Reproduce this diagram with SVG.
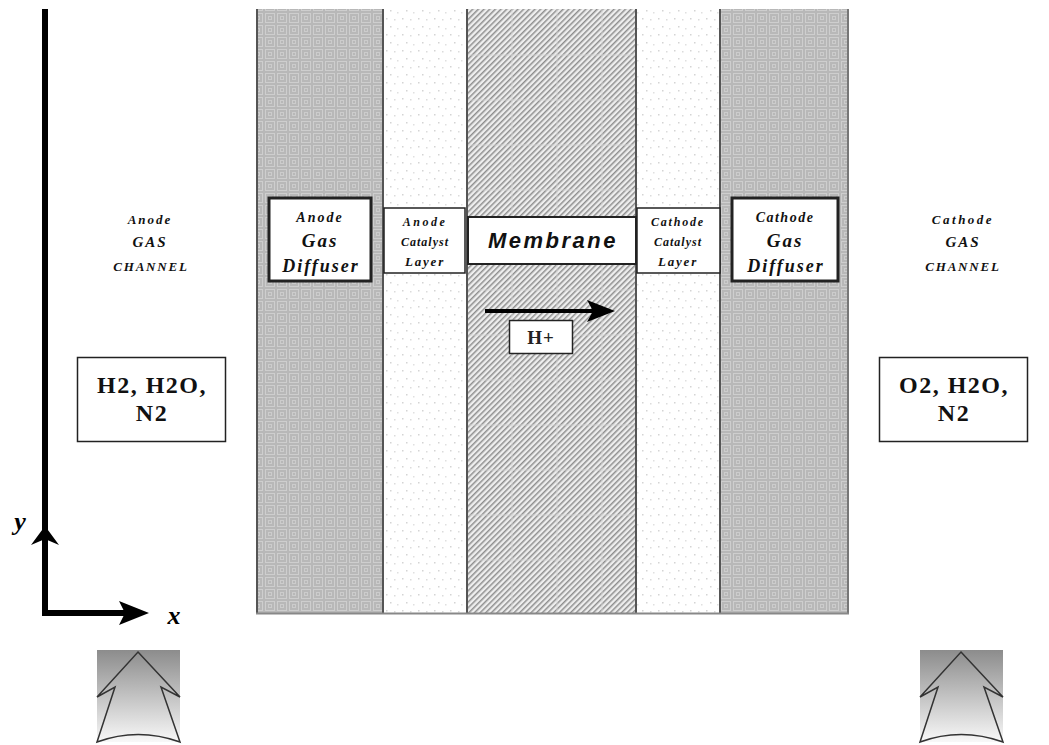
<svg xmlns="http://www.w3.org/2000/svg" width="1049" height="745" viewBox="0 0 1049 745">
<defs>
<pattern id="gdl" width="12" height="12" patternUnits="userSpaceOnUse">
<rect width="12" height="12" fill="#b8b8b8"/>
<rect x="1.5" y="1.5" width="9" height="9" fill="none" stroke="#cecece" stroke-width="1"/>
<rect x="4.5" y="4.5" width="3" height="3" fill="none" stroke="#cccccc" stroke-width="1"/>
</pattern>
<pattern id="cat" width="16" height="16" patternUnits="userSpaceOnUse">
<rect width="16" height="16" fill="#ffffff"/>
<rect x="2" y="2" width="1.5" height="1.5" fill="#d4d4d4"/>
<rect x="10" y="3" width="1.5" height="1.5" fill="#dcdcdc"/>
<rect x="6" y="10" width="1.5" height="1.5" fill="#d4d4d4"/>
<rect x="13" y="12" width="1.5" height="1.5" fill="#e0e0e0"/>
</pattern>
<pattern id="mem" width="4" height="4" patternUnits="userSpaceOnUse" patternTransform="rotate(45)">
<rect width="4" height="4" fill="#eeeeee"/>
<rect x="0" y="0" width="1.5" height="4" fill="#8e8e8e"/>
</pattern>
<linearGradient id="grad" x1="0" y1="0" x2="0" y2="1">
<stop offset="0" stop-color="#8c8c8c"/>
<stop offset="1" stop-color="#f8f8f8"/>
</linearGradient>
<style>
.lbl{font-family:"Liberation Serif","DejaVu Serif",serif;font-weight:bold;font-style:italic;fill:#111;text-anchor:middle;}
.box{fill:#fff;stroke:#222;}
.gas{font-family:"Liberation Serif","DejaVu Serif",serif;font-weight:bold;font-size:24px;letter-spacing:1.5px;fill:#111;text-anchor:middle;}
.div{stroke:#555;stroke-width:2;}
</style>
</defs>

<g id="layers">
<rect x="256" y="9" width="127" height="604" fill="url(#gdl)"/>
<rect x="383" y="9" width="84" height="604" fill="url(#cat)"/>
<rect x="467" y="9" width="169" height="604" fill="url(#mem)"/>
<rect x="636" y="9" width="84" height="604" fill="url(#cat)"/>
<rect x="720" y="9" width="129" height="604" fill="url(#gdl)"/>
<g stroke="#d6d6d6" stroke-width="1" opacity="0.8">
<line x1="467" y1="55" x2="636" y2="55"/><line x1="467" y1="100" x2="636" y2="100"/><line x1="467" y1="145" x2="636" y2="145"/><line x1="467" y1="190" x2="636" y2="190"/><line x1="467" y1="290" x2="636" y2="290"/><line x1="467" y1="335" x2="636" y2="335"/><line x1="467" y1="380" x2="636" y2="380"/><line x1="467" y1="425" x2="636" y2="425"/><line x1="467" y1="470" x2="636" y2="470"/><line x1="467" y1="515" x2="636" y2="515"/><line x1="467" y1="560" x2="636" y2="560"/>
<line x1="512" y1="9" x2="512" y2="613"/><line x1="557" y1="9" x2="557" y2="613"/><line x1="602" y1="9" x2="602" y2="613"/>
</g>
<line class="div" x1="257" y1="9" x2="257" y2="613"/>
<line class="div" x1="383" y1="9" x2="383" y2="613"/>
<line class="div" x1="467" y1="9" x2="467" y2="613"/>
<line class="div" x1="636" y1="9" x2="636" y2="613"/>
<line class="div" x1="720" y1="9" x2="720" y2="613"/>
<line x1="848" y1="9" x2="848" y2="613" stroke="#777" stroke-width="2"/>
<line x1="256" y1="613.5" x2="849" y2="613.5" stroke="#888" stroke-width="2"/>
</g>

<g id="anode-gas-channel">
<text class="lbl" x="150" y="224" font-size="13" letter-spacing="2">Anode</text>
<text class="lbl" x="150" y="247" font-size="15" letter-spacing="2">GAS</text>
<text class="lbl" x="151" y="271" font-size="13" letter-spacing="1.8">CHANNEL</text>
</g>
<g id="cathode-gas-channel">
<text class="lbl" x="963" y="224" font-size="13" letter-spacing="2.5">Cathode</text>
<text class="lbl" x="963" y="247" font-size="15" letter-spacing="2">GAS</text>
<text class="lbl" x="963" y="271" font-size="13" letter-spacing="1.8">CHANNEL</text>
</g>

<g id="anode-gas-diffuser">
<rect class="box" x="269" y="198" width="102" height="83" stroke-width="3"/>
<text class="lbl" x="320" y="222" font-size="14" letter-spacing="2">Anode</text>
<text class="lbl" x="320" y="247" font-size="19" letter-spacing="2">Gas</text>
<text class="lbl" x="321" y="272" font-size="18" letter-spacing="2">Diffuser</text>
</g>
<g id="anode-catalyst-layer">
<rect class="box" x="384" y="208" width="81" height="65" stroke-width="1.5"/>
<text class="lbl" x="425" y="226" font-size="12" letter-spacing="2.5">Anode</text>
<text class="lbl" x="425" y="246" font-size="12" font-weight="normal" letter-spacing="1">Catalyst</text>
<text class="lbl" x="425" y="266" font-size="13" letter-spacing="1.8">Layer</text>
</g>
<g id="membrane">
<rect class="box" x="468" y="217" width="168" height="47" stroke-width="2"/>
<text x="553" y="248" font-family="Liberation Sans, Arial, sans-serif" font-weight="bold" font-style="italic" font-size="22" letter-spacing="2.5" text-anchor="middle" fill="#111">Membrane</text>
</g>
<g id="cathode-catalyst-layer">
<rect class="box" x="637" y="208" width="83" height="65" stroke-width="1.5"/>
<text class="lbl" x="678" y="226" font-size="12" letter-spacing="1.8">Cathode</text>
<text class="lbl" x="678" y="246" font-size="12" letter-spacing="1">Catalyst</text>
<text class="lbl" x="678" y="266" font-size="13" letter-spacing="1.8">Layer</text>
</g>
<g id="cathode-gas-diffuser">
<rect class="box" x="732" y="198" width="106" height="83" stroke-width="3"/>
<text class="lbl" x="785" y="222" font-size="14" letter-spacing="1.5">Cathode</text>
<text class="lbl" x="785" y="247" font-size="19" letter-spacing="2">Gas</text>
<text class="lbl" x="786" y="272" font-size="18" letter-spacing="2">Diffuser</text>
</g>

<g id="anode-species">
<rect class="box" x="77.5" y="357.5" width="148" height="84" stroke-width="1.5"/>
<text class="gas" x="152" y="393">H2, H2O,</text>
<text class="gas" x="152" y="421">N2</text>
</g>
<g id="cathode-species">
<rect class="box" x="879.5" y="357.5" width="148" height="84" stroke-width="1.5"/>
<text class="gas" x="954" y="393">O2, H2O,</text>
<text class="gas" x="954" y="421">N2</text>
</g>

<g id="proton">
<rect class="box" x="509.5" y="320.5" width="63" height="33" stroke-width="1.5"/>
<text x="541" y="344" font-family="Liberation Serif, serif" font-weight="bold" font-size="19" letter-spacing="1" text-anchor="middle" fill="#222">H+</text>
</g>

<g id="connectors">
<line x1="485" y1="311" x2="595" y2="311" stroke="#000" stroke-width="4"/>
<path d="M615,311 L587,300 L593,311 L587,322 Z" fill="#000"/>
<line x1="45" y1="9" x2="45" y2="616" stroke="#000" stroke-width="6"/>
<path d="M45,526 L59,545 L45,539 L31,545 Z" fill="#000"/>
<line x1="42" y1="613" x2="130" y2="613" stroke="#000" stroke-width="6"/>
<path d="M149,613 L119,601 L125,613 L119,625 Z" fill="#000"/>
</g>

<g id="axis-labels">
<text x="20" y="530" font-family="Liberation Serif, serif" font-weight="bold" font-style="italic" font-size="26" text-anchor="middle" fill="#000">y</text>
<text x="174" y="624" font-family="Liberation Serif, serif" font-weight="bold" font-style="italic" font-size="26" text-anchor="middle" fill="#000">x</text>
</g>

<g id="anode-inlet">
<rect x="97" y="650" width="83" height="92" fill="url(#grad)"/>
<path d="M138,652 L180,697 L161,687 L180,742 Q138,727 97,742 L115,687 L97,697 Z" fill="none" stroke="#333" stroke-width="1.5"/>
</g>
<g id="cathode-inlet">
<rect x="920" y="650" width="83" height="92" fill="url(#grad)"/>
<path d="M961,652 L1003,697 L984,687 L1003,742 Q961,727 920,742 L938,687 L920,697 Z" fill="none" stroke="#333" stroke-width="1.5"/>
</g>
</svg>
